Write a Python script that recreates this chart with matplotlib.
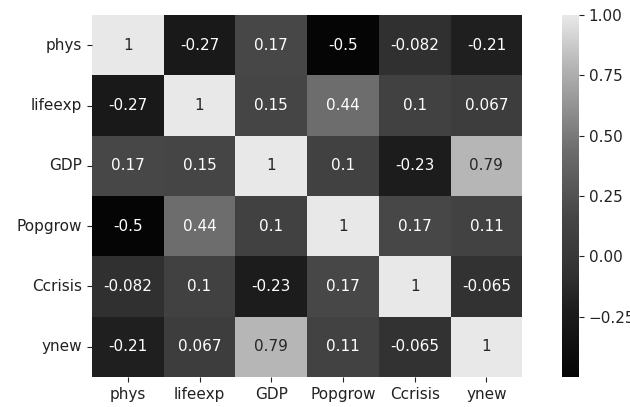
import matplotlib
matplotlib.use("Agg")
import matplotlib.pyplot as plt
import numpy as np
import seaborn as sns
from matplotlib.colors import LinearSegmentedColormap

labels = ["phys", "lifeexp", "GDP", "Popgrow", "Ccrisis", "ynew"]
phys = [1, -0.27, 0.17, -0.5, -0.082, -0.21]
lifeexp = [-0.27, 1, 0.15, 0.44, 0.1, 0.067]
gdp = [0.17, 0.15, 1, 0.1, -0.23, 0.79]
popgrow = [-0.5, 0.44, 0.1, 1, 0.17, 0.11]
ccrisis = [-0.082, 0.1, -0.23, 0.17, 1, -0.065]
ynew = [-0.21, 0.067, 0.79, 0.11, -0.065, 1]

corr = np.array([phys, lifeexp, gdp, popgrow, ccrisis, ynew])

stops = [(0.0, 0.02), (0.18, 0.11), (0.28, 0.19), (0.45, 0.28),
         (0.63, 0.43), (0.86, 0.71), (1.0, 0.91)]
cmap = LinearSegmentedColormap.from_list(
    "g", [(p, (g, g, g)) for p, g in stops])

fig = plt.figure(figsize=(6.3, 4.07), dpi=100)
ax = fig.add_axes([0.146, 0.074, 0.683, 0.889])
cax = fig.add_axes([0.892, 0.074, 0.027, 0.889])

sns.heatmap(corr, annot=True, cmap=cmap, ax=ax, cbar_ax=cax,
            xticklabels=labels, yticklabels=labels,
            annot_kws={"fontsize": 11})
ax.tick_params(axis="both", labelsize=11, colors="#222222")
ax.set_yticklabels(labels, rotation=0)
ax.set_xticklabels(labels, rotation=0)
cax.tick_params(labelsize=11, colors="#222222")
cax.set_yticks([-0.25, 0.0, 0.25, 0.5, 0.75, 1.0])
cax.set_yticklabels(["\u22120.25", "0.00", "0.25", "0.50", "0.75", "1.00"])
for s in cax.spines.values():
    s.set_visible(False)

fig.savefig("out.png", dpi=100)
